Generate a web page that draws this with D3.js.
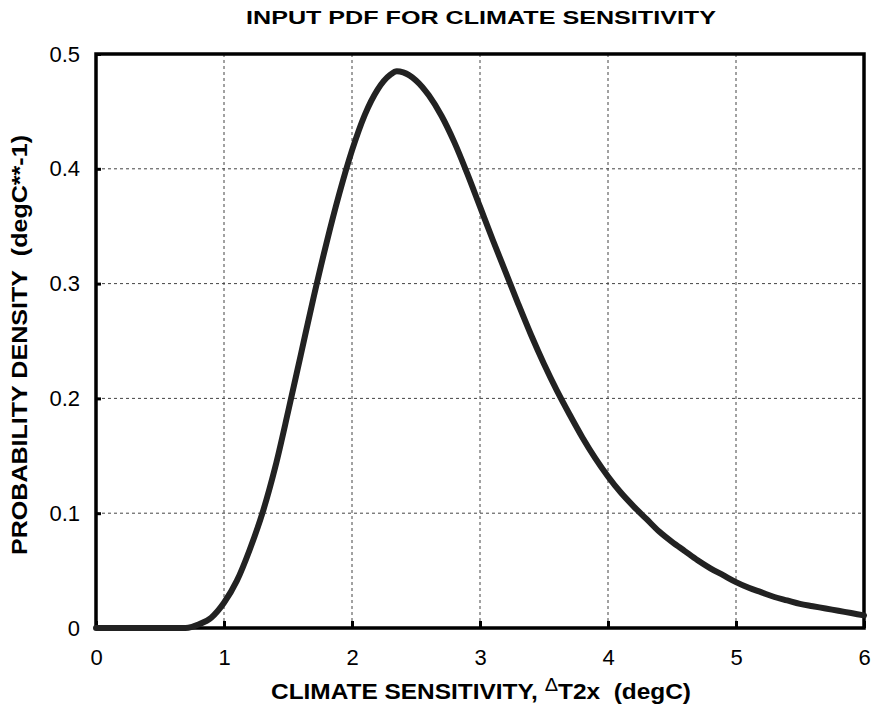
<!DOCTYPE html>
<html>
<head>
<meta charset="utf-8">
<script src="https://cdn.jsdelivr.net/npm/d3@7"></script>
<style>
  body { margin: 0; background: #fff; }
  svg { font-family: "Liberation Sans", Arial, sans-serif; }
</style>
</head>
<body>
<div id="chart"></div>
<script>
// climate sensitivity (degC) and probability density
const sensitivity = [0, 0.7, 0.75, 0.8, 0.9, 1.0, 1.1, 1.2, 1.3, 1.4, 1.5, 1.6, 1.7, 1.8, 1.9,
  2.0, 2.1, 2.2, 2.3, 2.35, 2.4, 2.5, 2.6, 2.7, 2.8, 2.9, 3.0, 3.1, 3.2, 3.3, 3.4, 3.5, 3.6,
  3.7, 3.8, 3.9, 4.0, 4.1, 4.2, 4.3, 4.4, 4.5, 4.6, 4.7, 4.8, 4.9, 5.0, 5.1, 5.2, 5.3, 5.4,
  5.5, 5.6, 5.7, 5.8, 5.9, 6.0];
const density = [0, 0, 0.001, 0.003, 0.009, 0.022, 0.041, 0.068, 0.100, 0.140, 0.188, 0.238,
  0.288, 0.335, 0.378, 0.416, 0.447, 0.469, 0.482, 0.485, 0.484, 0.477, 0.464, 0.446, 0.423,
  0.396, 0.367, 0.338, 0.310, 0.282, 0.255, 0.230, 0.207, 0.186, 0.166, 0.148, 0.132, 0.118,
  0.106, 0.095, 0.084, 0.075, 0.067, 0.059, 0.052, 0.046, 0.040, 0.035, 0.031, 0.027, 0.024,
  0.021, 0.019, 0.017, 0.015, 0.013, 0.011];
const xTicks = [0, 1, 2, 3, 4, 5, 6];
const yTicks = [0, 0.1, 0.2, 0.3, 0.4, 0.5];

const width = 871;
const height = 717;
const margin = { top: 54, right: 7, bottom: 89, left: 96 };
const innerWidth = width - margin.left - margin.right;
const innerHeight = height - margin.top - margin.bottom;

const svg = d3.select("#chart")
  .append("svg")
  .attr("width", width)
  .attr("height", height);

const g = svg.append("g")
  .attr("transform", `translate(${margin.left}, ${margin.top})`);

const x = d3.scaleLinear().domain([0, 6]).range([0, innerWidth]);
const y = d3.scaleLinear().domain([0, 0.5]).range([innerHeight, 0]);

// dashed grid
g.selectAll(".vgrid")
  .data(xTicks.slice(1, -1))
  .enter().append("line")
  .attr("x1", d => x(d)).attr("x2", d => x(d))
  .attr("y1", 0).attr("y2", innerHeight)
  .attr("stroke", "#444").attr("stroke-width", 1)
  .attr("stroke-dasharray", "3,3");

g.selectAll(".hgrid")
  .data(yTicks.slice(1, -1))
  .enter().append("line")
  .attr("x1", 0).attr("x2", innerWidth)
  .attr("y1", d => y(d)).attr("y2", d => y(d))
  .attr("stroke", "#444").attr("stroke-width", 1)
  .attr("stroke-dasharray", "3,3");

// axes with inward ticks
const xAxis = g.append("g")
  .attr("transform", `translate(0, ${innerHeight})`)
  .call(d3.axisBottom(x).tickValues(xTicks).tickSize(-7).tickPadding(21)
    .tickFormat(d3.format("d")));

const yAxis = g.append("g")
  .call(d3.axisLeft(y).tickValues(yTicks).tickSize(-5).tickPadding(16)
    .tickFormat(d => d === 0 ? "0" : d3.format(".1f")(d)));

[xAxis, yAxis].forEach(a => {
  a.select(".domain").remove();
  a.selectAll(".tick line").attr("stroke", "#000").attr("stroke-width", 3);
  a.selectAll(".tick text")
    .attr("font-family", "Liberation Sans, Arial, sans-serif")
    .attr("font-size", 22)
    .attr("fill", "#000");
});

// frame
g.append("rect")
  .attr("x", 0).attr("y", 0)
  .attr("width", innerWidth).attr("height", innerHeight)
  .attr("fill", "none")
  .attr("stroke", "#000")
  .attr("stroke-width", 3.5);

// pdf curve
const line = d3.line()
  .x((d, i) => x(sensitivity[i]))
  .y(d => y(d))
  .curve(d3.curveMonotoneX);

g.append("path")
  .datum(density)
  .attr("fill", "none")
  .attr("stroke", "#222")
  .attr("stroke-width", 6)
  .attr("stroke-linejoin", "round")
  .attr("stroke-linecap", "round")
  .attr("d", line);

// title
svg.append("text")
  .attr("x", 481).attr("y", 24)
  .attr("text-anchor", "middle")
  .attr("font-size", 18).attr("font-weight", "bold")
  .attr("textLength", 470).attr("lengthAdjust", "spacingAndGlyphs")
  .text("INPUT PDF FOR CLIMATE SENSITIVITY");

// x axis title
const xt = svg.append("text")
  .attr("x", 481).attr("y", 699)
  .attr("text-anchor", "middle")
  .attr("font-size", 22).attr("font-weight", "bold")
  .attr("textLength", 420).attr("lengthAdjust", "spacingAndGlyphs");
xt.append("tspan").text("CLIMATE SENSITIVITY, ");
xt.append("tspan").attr("font-weight", "normal").attr("font-size", 18)
  .attr("dy", -8).text("\u0394");
xt.append("tspan").attr("dy", 8).text("T2x\u00a0\u00a0(degC)");

// y axis title
svg.append("text")
  .attr("transform", `translate(27, ${margin.top + innerHeight / 2 + 4}) rotate(-90)`)
  .attr("text-anchor", "middle")
  .attr("font-size", 22).attr("font-weight", "bold")
  .attr("textLength", 420).attr("lengthAdjust", "spacingAndGlyphs")
  .text("PROBABILITY DENSITY\u00a0\u00a0(degC**-1)");
</script>
</body>
</html>
